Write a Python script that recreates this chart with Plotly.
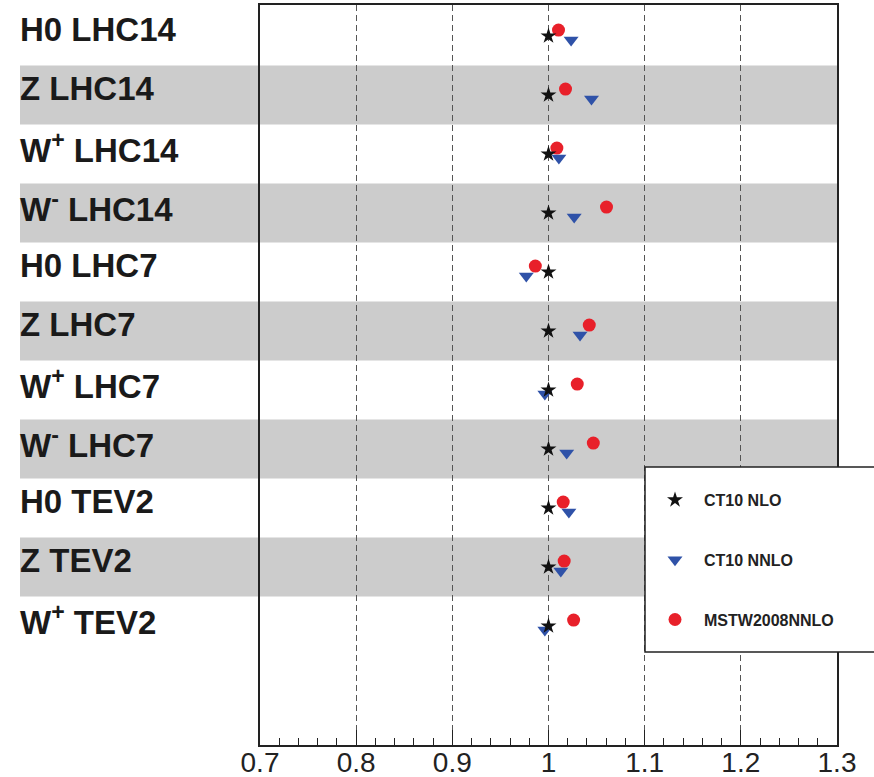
import plotly.graph_objects as go

categories = ["H0 LHC14", "Z LHC14", "W<sup>+</sup> LHC14", "W<sup>-</sup> LHC14",
              "H0 LHC7", "Z LHC7", "W<sup>+</sup> LHC7", "W<sup>-</sup> LHC7",
              "H0 TEV2", "Z TEV2", "W<sup>+</sup> TEV2"]
ct10_nlo = [1.0, 1.0, 1.0, 1.0, 1.0, 1.0, 1.0, 1.0, 1.0, 1.0, 1.0]
ct10_nnlo = [1.0235, 1.0447, 1.0108, 1.0267, 0.9769, 1.0328, 0.9962, 1.0189, 1.0212, 1.0128, 0.9962]
mstw_nnlo = [1.0104, 1.0177, 1.0087, 1.0603, 0.9863, 1.0424, 1.0299, 1.0466, 1.0153, 1.0163, 1.0261]
x_ticks = [0.7, 0.8, 0.9, 1.0, 1.1, 1.2, 1.3]
x_tick_text = ["0.7", "0.8", "0.9", "1", "1.1", "1.2", "1.3"]

W, H = 874, 777
ML, MR, MT, MB = 260, 37, 5, 32
PW = W - ML - MR
PH = H - MT - MB

idx = list(range(len(categories)))
FONT = "Liberation Sans, Arial, sans-serif"

fig = go.Figure()
fig.add_trace(go.Scatter(
    x=mstw_nnlo, y=[i - 0.1 for i in idx], mode="markers", name="<b>MSTW2008NNLO</b>",
    marker=dict(symbol="circle", size=13, color="#e8202a"),
    legendgroup="c", legendrank=3))
fig.add_trace(go.Scatter(
    x=ct10_nnlo, y=[i + 0.07 for i in idx], mode="markers", name="<b>CT10 NNLO</b>",
    marker=dict(symbol="triangle-down", size=13, color="#2f52a8"),
    legendgroup="b", legendrank=2))
fig.add_trace(go.Scatter(
    x=ct10_nlo, y=idx, mode="markers", name="<b>CT10 NLO</b>",
    marker=dict(symbol="star", size=12, color="#111111"),
    legendgroup="a", legendrank=1))

shapes = []
for i in idx:
    if i % 2 == 1:
        shapes.append(dict(type="rect", xref="paper", yref="y",
                           x0=(20 - ML) / PW, x1=1, y0=i - 0.5, y1=i + 0.5,
                           fillcolor="#cccccc", line=dict(width=0), layer="below"))
# legend box
shapes.append(dict(type="rect", xref="paper", yref="paper",
                   x0=(645 - ML) / PW, x1=1.2, y0=(H - MB - 652) / PH, y1=(H - MB - 467) / PH,
                   fillcolor="white", line=dict(color="#222", width=1.5), layer="above"))

annotations = []
for i, c in zip(idx, categories):
    annotations.append(dict(xref="paper", yref="y", x=(18 - ML) / PW, y=i,
                            text="<b>" + c + "</b>", showarrow=False,
                            xanchor="left", yanchor="middle", yshift=6,
                            font=dict(family=FONT, size=33, color="#1a1a1a")))

fig.update_layout(
    width=W, height=H,
    margin=dict(l=ML, r=MR, t=MT, b=MB, autoexpand=False),
    paper_bgcolor="white", plot_bgcolor="rgba(0,0,0,0)",
    shapes=shapes, annotations=annotations,
    showlegend=True,
    legend=dict(x=(646 - ML) / PW, xanchor="left", y=(H - MB - 483) / PH, yanchor="top",
                bgcolor="rgba(0,0,0,0)", borderwidth=0, itemwidth=48,
                tracegroupgap=36,
                font=dict(family=FONT, size=16, color="#222"),
                traceorder="grouped"),
    xaxis=dict(range=[0.7, 1.3], tickvals=x_ticks, ticktext=x_tick_text,
               automargin=False, ticklabelstandoff=-8,
               showline=True, mirror=True, linecolor="#222", linewidth=1.5,
               ticks="inside", ticklen=15, tickcolor="#222", tickwidth=1,
               showgrid=True, gridcolor="#555", griddash="6px,4px", gridwidth=1,
               zeroline=False,
               tickfont=dict(family=FONT, size=28, color="#222"),
               minor=dict(dtick=0.02, tick0=0.7, ticks="inside", ticklen=7,
                          tickcolor="#222", showgrid=False)),
    yaxis=dict(range=[12.017, -0.525], showline=True, mirror=True, linecolor="#222",
               linewidth=1.5, showticklabels=False, ticks="", showgrid=False,
               zeroline=False, automargin=False),
)

fig.write_html("out.html")
